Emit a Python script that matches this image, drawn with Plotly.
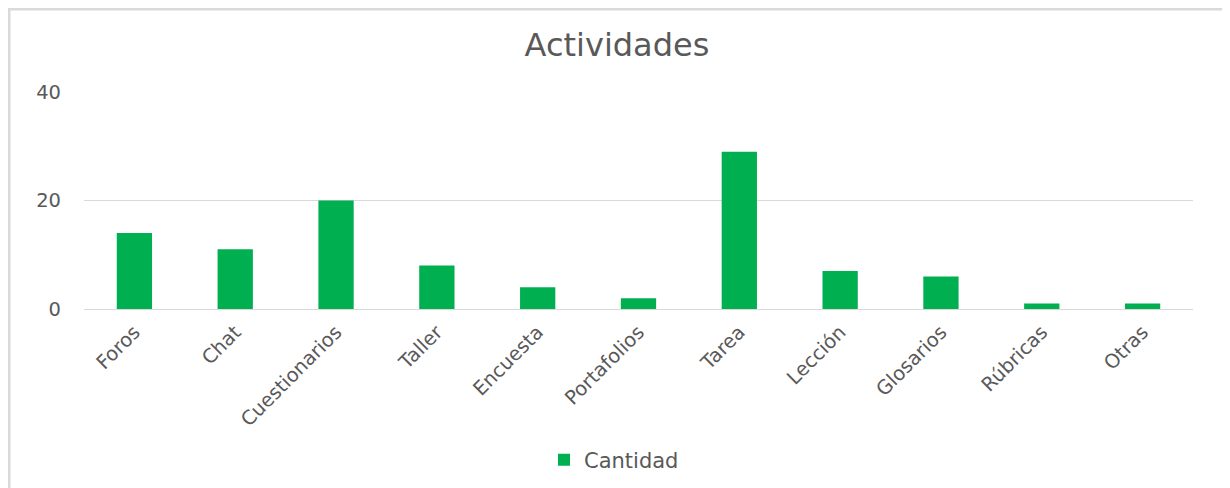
import plotly.graph_objects as go

categories = ["Foros", "Chat", "Cuestionarios", "Taller", "Encuesta", "Portafolios",
              "Tarea", "Lección", "Glosarios", "Rúbricas", "Otras"]
cantidad = [14, 11, 20, 8, 4, 2, 29, 7, 6, 1, 1]
y_ticks = [0, 20, 40]

FONT = "DejaVu Sans"
GRAY = "#595959"

fig = go.Figure()
fig.add_trace(go.Bar(x=categories, y=cantidad, name="Cantidad",
                     marker=dict(color="#00B050", line=dict(width=0))))

L, R, T, B = 76, 45, 84, 187
W, H = 1230, 488
pw, ph = W - L - R, H - T - B

fig.update_layout(
    width=W, height=H,
    paper_bgcolor="white", plot_bgcolor="white",
    margin=dict(l=L, r=R, t=T, b=B, autoexpand=False),
    bargap=0.65,
    title=dict(text="Actividades", x=609 / W, xanchor="center", y=1 - 37 / H, yanchor="middle",
               xref="paper" if False else "container",
               font=dict(family=FONT, size=32, color=GRAY)),
    font=dict(family=FONT, size=19, color=GRAY),
    showlegend=True,
    legend=dict(orientation="h", x=(614 - 8) / W, xanchor="center", y=1 - 452 / H,
                xref="container", yref="container",
                yanchor="middle", font=dict(family=FONT, size=21, color=GRAY)),
    xaxis=dict(tickangle=-45, showgrid=False, showline=True, linecolor="#d9d9d9",
               linewidth=1, ticks="", ticklabelstandoff=3, automargin=False,
               tickfont=dict(family=FONT, size=19.5, color=GRAY)),
    yaxis=dict(range=[0, 40], tickvals=y_ticks, showgrid=True, gridcolor="#d9d9d9",
               gridwidth=1, zeroline=False, showline=False, ticks="",
               ticklabelstandoff=22, automargin=False,
               tickfont=dict(family=FONT, size=19.5, color=GRAY)),
    shapes=[dict(type="rect", xref="paper", yref="paper",
                 x0=-(L - 1) / pw, x1=1 + (R + 5) / pw,
                 y0=-(B + 5) / ph, y1=1 + (T - 1) / ph,
                 line=dict(color="#d9d9d9", width=3), layer="below")],
)

fig.write_html("out.html")
